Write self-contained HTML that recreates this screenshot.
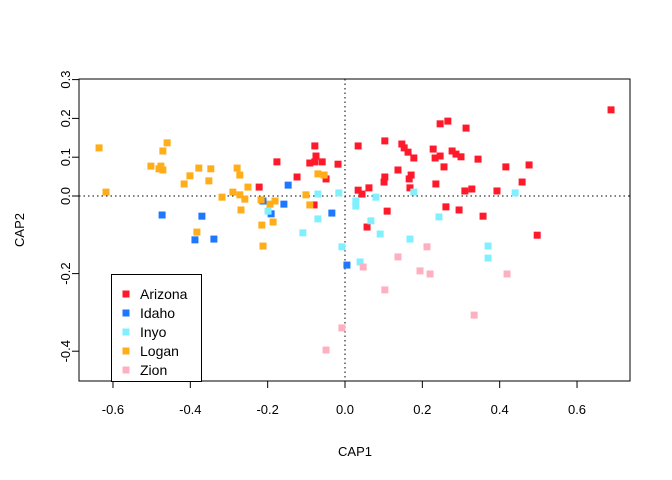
<!DOCTYPE html>
<html><head><meta charset="utf-8"><style>
body{margin:0;background:#fff}
svg{display:block;font-family:"Liberation Sans",Arial,sans-serif}
</style></head><body>
<svg id="chart" width="672" height="480" xmlns="http://www.w3.org/2000/svg">
<rect width="672" height="480" fill="#fff"/>
<g id="marks"></g>
<g id="axes"></g>
</svg>
<script>
const groups = ["Arizona","Idaho","Inyo","Logan","Zion"];
const colors = ["#FF1A2B","#1E78FF","#80F0FF","#FFAE1A","#FFB0C0"];
const xTicks = [-0.6,-0.4,-0.2,0.0,0.2,0.4,0.6];
const xTickLabels = ["-0.6","-0.4","-0.2","0.0","0.2","0.4","0.6"];
const yTicks = [-0.4,-0.2,0.0,0.1,0.2,0.3];
const yTickLabels = ["-0.4","-0.2","0.0","0.1","0.2","0.3"];
const loganX = [-0.636,-0.618,-0.460,-0.471,-0.502,-0.476,-0.471,-0.481,-0.401,-0.378,-0.347,-0.416,-0.352,-0.279,-0.272,-0.251,-0.290,-0.272,-0.259,-0.318,-0.269,-0.217,-0.181,-0.194,-0.186,-0.215,-0.383,-0.212,-0.101,-0.091,-0.070,-0.054];
const loganY = [0.124,0.010,0.137,0.116,0.077,0.077,0.067,0.070,0.052,0.072,0.070,0.031,0.039,0.072,0.054,0.023,0.010,0.003,-0.008,-0.003,-0.036,-0.010,-0.013,-0.021,-0.067,-0.075,-0.093,-0.129,0.003,-0.023,0.057,0.054];
const idahoX = [-0.473,-0.370,-0.388,-0.339,-0.147,-0.212,-0.158,-0.191,-0.034,0.005];
const idahoY = [-0.049,-0.052,-0.113,-0.111,0.028,-0.013,-0.021,-0.046,-0.044,-0.178];
const inyoX = [-0.199,-0.070,-0.016,-0.070,-0.109,-0.008,0.028,0.028,0.080,0.178,0.440,0.067,0.091,0.243,0.168,0.370,0.370,0.039];
const inyoY = [-0.039,0.005,0.008,-0.059,-0.095,-0.131,-0.013,-0.026,-0.003,0.010,0.008,-0.064,-0.098,-0.054,-0.111,-0.129,-0.160,-0.170];
const arizonaX = [-0.176,-0.078,-0.075,-0.091,-0.078,-0.059,-0.018,-0.124,-0.049,-0.222,-0.080,0.688,0.246,0.266,0.313,0.034,0.103,0.147,0.153,0.163,0.178,0.228,0.233,0.246,0.256,0.277,0.287,0.300,0.344,0.416,0.476,0.458,0.137,0.101,0.103,0.166,0.171,0.168,0.235,0.034,0.044,0.062,0.310,0.328,0.393,0.261,0.295,0.357,0.109,0.057,0.497];
const arizonaY = [0.088,0.129,0.103,0.085,0.088,0.088,0.082,0.049,0.044,0.023,-0.023,0.222,0.186,0.193,0.175,0.129,0.142,0.134,0.124,0.113,0.098,0.121,0.098,0.103,0.075,0.116,0.108,0.101,0.095,0.075,0.080,0.036,0.067,0.036,0.049,0.044,0.054,0.021,0.031,0.015,0.005,0.021,0.013,0.018,0.013,-0.028,-0.036,-0.052,-0.039,-0.080,-0.101];
const zionX = [0.212,0.137,0.047,0.194,0.220,0.419,0.103,0.334,-0.008,-0.049];
const zionY = [-0.131,-0.157,-0.183,-0.193,-0.201,-0.201,-0.242,-0.307,-0.340,-0.397];

const NS="http://www.w3.org/2000/svg";
const L=79,R=630,T=79,B=381;
function sx(v){return 345+v*386.7;}
function sy(v){return 196-v*388;}
function mk(tag,attrs,parent){const e=document.createElementNS(NS,tag);for(const k in attrs)e.setAttribute(k,attrs[k]);parent.appendChild(e);return e;}
const marks=document.getElementById('marks');
const axes=document.getElementById('axes');
// zero lines
let zl=mk('line',{x1:sx(0),x2:sx(0),y1:T,y2:B,stroke:'#000','stroke-dasharray':'1.5,3'},marks);


let zh=mk('line',{x1:L,x2:R,y1:sy(0),y2:sy(0),stroke:'#000','stroke-dasharray':'1.5,3'},marks);


// draw order: Arizona, Idaho, Inyo, Logan, Zion
const series=[[arizonaX,arizonaY],[idahoX,idahoY],[inyoX,inyoY],[loganX,loganY],[zionX,zionY]];
series.forEach((s,gi)=>{
  s[0].forEach((xv,i)=>{
    const r=mk('rect',{x:sx(xv)-3.5,y:sy(s[1][i])-3.5,width:7,height:7,fill:colors[gi]},marks);
    
    
  });
});
// box
let box=mk('rect',{x:L,y:T,width:R-L,height:B-T,fill:'none',stroke:'#000'},axes);


xTicks.forEach((t,i)=>{
  const x=sx(t);
  const tl=mk('line',{x1:x,x2:x,y1:B,y2:B+7,stroke:'#000'},axes);
  
  
  const tx=mk('text',{x:x,y:414,'text-anchor':'middle','font-size':'13'},axes);
  tx.textContent=xTickLabels[i];
  
  
});
yTicks.forEach((t,i)=>{
  const y=sy(t);
  const tl=mk('line',{x1:L-7,x2:L,y1:y,y2:y,stroke:'#000'},axes);
  
  
  const tx=mk('text',{x:0,y:0,'text-anchor':'middle','font-size':'13',transform:'translate(70,'+y+') rotate(-90)'},axes);
  tx.textContent=yTickLabels[i];
  
  
});
let xt=mk('text',{x:355,y:456,'text-anchor':'middle','font-size':'13'},axes);
xt.textContent='CAP1';


let yt=mk('text',{x:0,y:0,'text-anchor':'middle','font-size':'13',transform:'translate(24,230) rotate(-90)'},axes);
yt.textContent='CAP2';


// legend
const lg=mk('g',{},axes);


mk('rect',{x:111.5,y:274.5,width:90,height:107,fill:'#fff',stroke:'#000'},lg);
groups.forEach((g,i)=>{
  const y=294+i*19;
  const e=mk('g',{},lg);
  
  
  mk('rect',{x:122.5,y:y-3.5,width:7,height:7,fill:colors[i]},e);
  const t=mk('text',{x:140,y:y+5,'font-size':'14'},e);
  t.textContent=g;
});
</script>
</body></html>
